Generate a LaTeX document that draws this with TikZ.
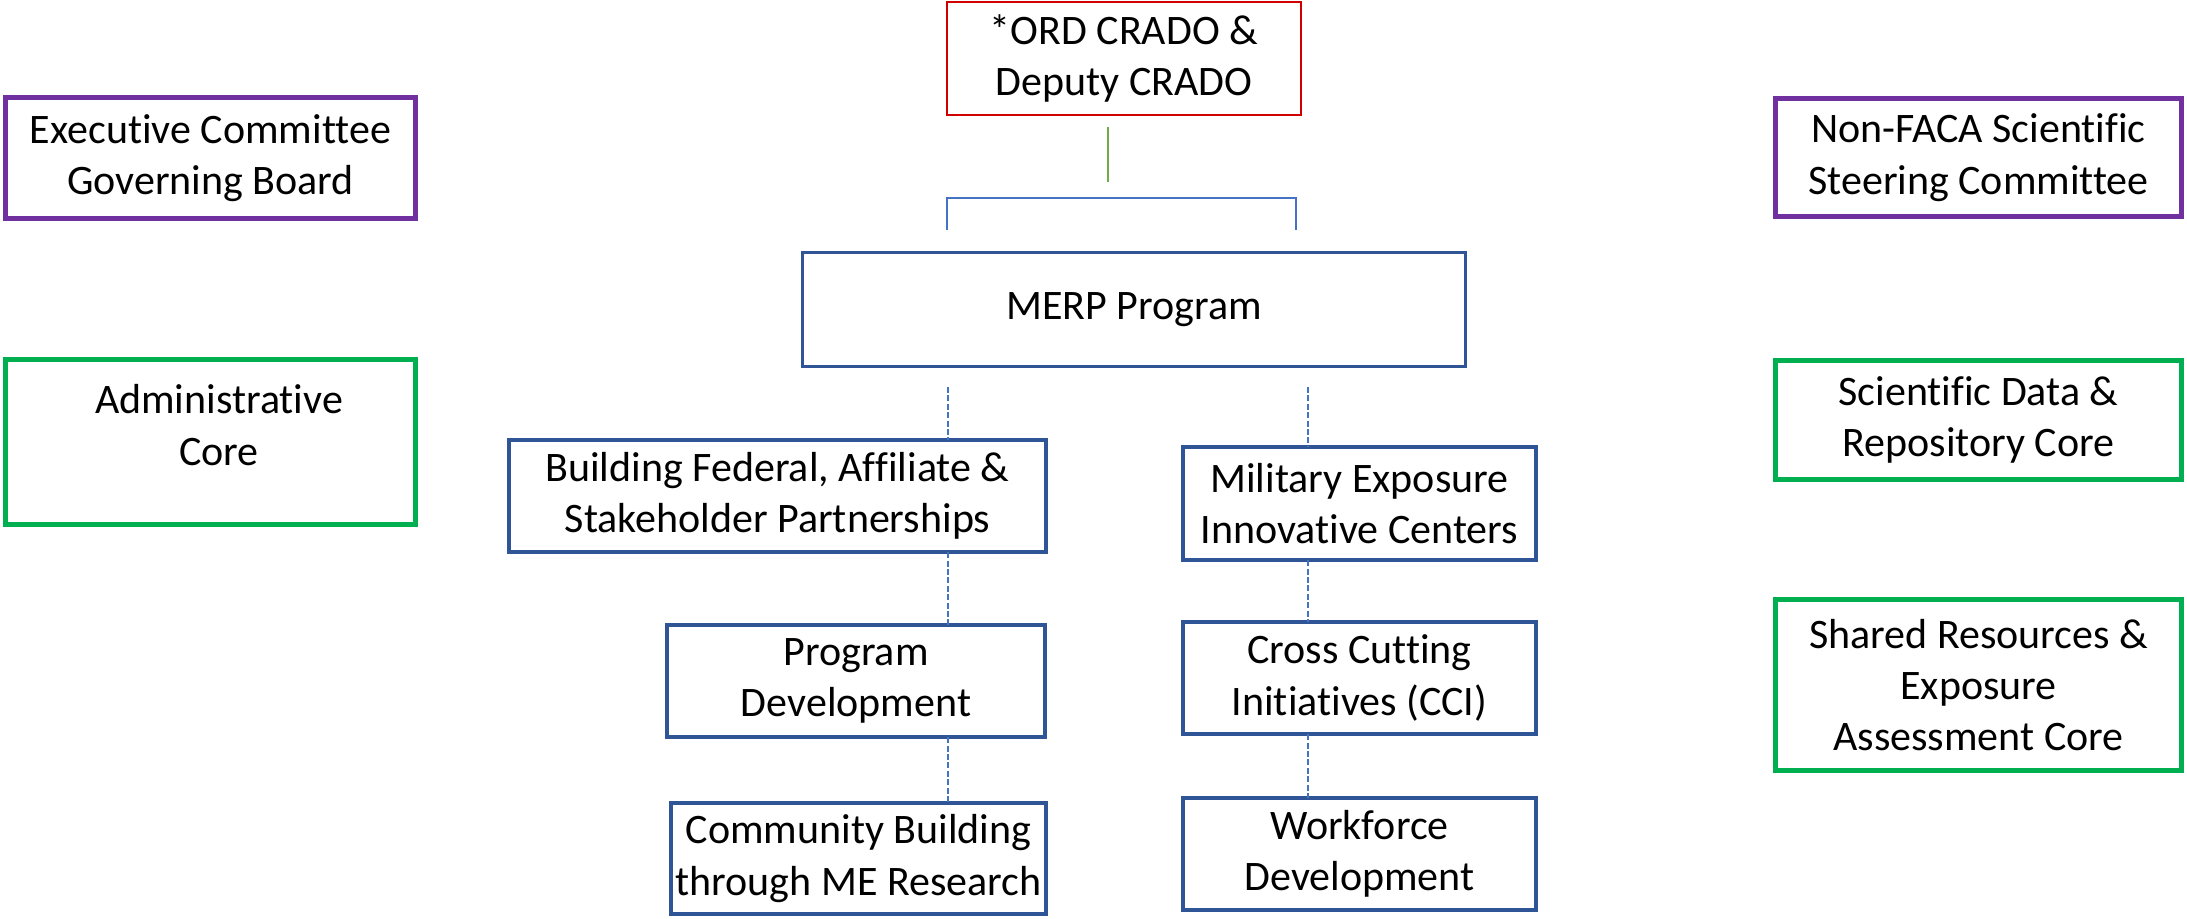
\documentclass[tikz,border=0pt]{standalone}
\usepackage{fontspec}
\setmainfont{Carlito}[Ligatures={NoCommon}]
\definecolor{boxblue}{HTML}{2F5597}
\definecolor{dashblue}{HTML}{4472C4}
\definecolor{boxpurple}{HTML}{7030A0}
\definecolor{boxgreen}{HTML}{00B050}
\definecolor{boxred}{HTML}{D00000}
\definecolor{linegreen}{HTML}{70AD47}
\tikzset{
  base/.style={draw, rectangle, align=center, inner sep=0pt, outer sep=0pt,
    font=\fontsize{21}{25.7}\selectfont},
  bluebox/.style={base, draw=boxblue, line width=1.8pt},
  redbox/.style={base, draw=boxred, line width=1.2pt},
  purplebox/.style={base, draw=boxpurple, line width=2.5pt},
  greenbox/.style={base, draw=boxgreen, line width=2.5pt},
  plaintext/.style={align=center, inner sep=0pt, font=\fontsize{21}{25.7}\selectfont},
  dashlink/.style={draw=dashblue, line width=1.1pt, dash pattern=on 3pt off 1.2pt},
  thinlink/.style={draw=dashblue, line width=0.7pt},
  greenlink/.style={draw=linegreen, line width=0.7pt},
}
\begin{document}
\begin{tikzpicture}[x=0.5pt,y=-0.5pt]
\useasboundingbox[fill=white] (0,0) rectangle (2187,918);

% top
\node[redbox, minimum width=176.8pt, minimum height=56.3pt] (crado) at (1124,58.5) {*ORD CRADO \&\\Deputy CRADO};
\node[bluebox, minimum width=331.4pt, minimum height=56.9pt] (merp) at (1134,309.5) {MERP Program};

% left side
\node[purplebox, minimum width=205pt, minimum height=60.5pt] (exec) at (210.5,158) {Executive Committee\\Governing Board};
\node[greenbox, minimum width=205pt, minimum height=82.5pt] (admin) at (210.5,442) {};
\node[plaintext] (admintext) at (219,425) {Administrative\\Core};

% right side
\node[purplebox, minimum width=203pt, minimum height=59pt] (nonfaca) at (1978.5,157.5) {Non-FACA Scientific\\Steering Committee};
\node[greenbox, minimum width=203pt, minimum height=59.5pt] (scidata) at (1978.5,420) {Scientific Data \&\\Repository Core};
\node[greenbox, minimum width=203pt, minimum height=85.5pt] (shared) at (1978.5,685) {Shared Resources \&\\Exposure\\Assessment Core};

% middle left column
\node[bluebox, minimum width=268.7pt, minimum height=56.2pt] (building) at (777.5,496) {Building Federal, Affiliate \&\\Stakeholder Partnerships};
\node[bluebox, minimum width=189.2pt, minimum height=56.2pt] (program) at (856,681) {Program\\Development};
\node[bluebox, minimum width=187.7pt, minimum height=55.7pt] (community) at (858.5,858.5) {Community Building\\through ME Research};

% middle right column
\node[bluebox, minimum width=176.7pt, minimum height=56.7pt] (military) at (1359.5,503.5) {Military Exposure\\Innovative Centers};
\node[bluebox, minimum width=176.7pt, minimum height=56.2pt] (cci) at (1359.5,678) {Cross Cutting\\Initiatives (CCI)};
\node[bluebox, minimum width=176.7pt, minimum height=56.2pt] (workforce) at (1359.5,854) {Workforce\\Development};

% connector helpers
\coordinate (gtop) at (1108,127);
\coordinate (gbot) at (1108,182);
\coordinate (bl) at (947,230);
\coordinate (br) at (1296,230);
\coordinate (bartop) at (0,198);
\coordinate (dl) at (948,387);
\coordinate (dr) at (1308,387);

\draw[greenlink] (gtop) -- (gbot);
\draw[thinlink] (bl) -- (bl |- bartop) -- (br |- bartop) -- (br);

\draw[dashlink] (dl) -- (dl |- building.north);
\draw[dashlink] (dl |- building.south) -- (dl |- program.north);
\draw[dashlink] (dl |- program.south) -- (dl |- community.north);

\draw[dashlink] (dr) -- (dr |- military.north);
\draw[dashlink] (dr |- military.south) -- (dr |- cci.north);
\draw[dashlink] (dr |- cci.south) -- (dr |- workforce.north);
\end{tikzpicture}
\end{document}
